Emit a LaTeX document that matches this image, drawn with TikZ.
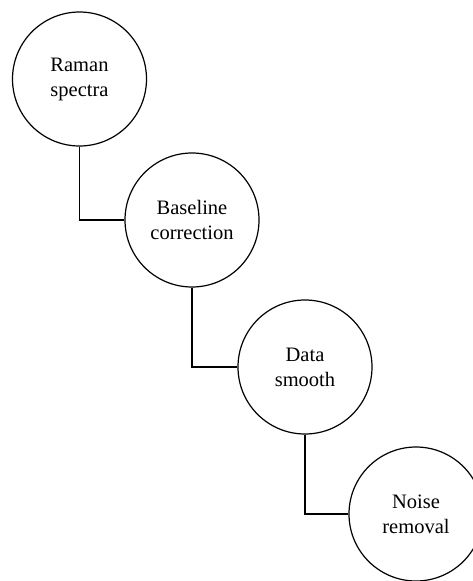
\documentclass[tikz,border=0pt]{standalone}
\usepackage{fontspec}
\setmainfont{Liberation Serif}
\begin{document}
\begin{tikzpicture}[x=1pt,y=1pt,
  stage/.style={circle,draw,line width=1.2pt,minimum size=134pt,inner sep=0pt,align=center,font=\fontsize{20.5}{25}\selectfont},
  link/.style={line width=1.2pt}]
\useasboundingbox (0,0) rectangle (472,-581);
\node[stage] (c1) at (79.5,-79) {Raman\\spectra};
\node[stage] (c2) at (192,-220) {Baseline\\correction};
\node[stage] (c3) at (305,-367) {Data\\smooth};
\node[stage] (c4) at (416,-514) {Noise\\removal};
\draw[link] (c1.south) |- (c2.west);
\draw[link] (c2.south) |- (c3.west);
\draw[link] (c3.south) |- (c4.west);
\end{tikzpicture}
\end{document}
